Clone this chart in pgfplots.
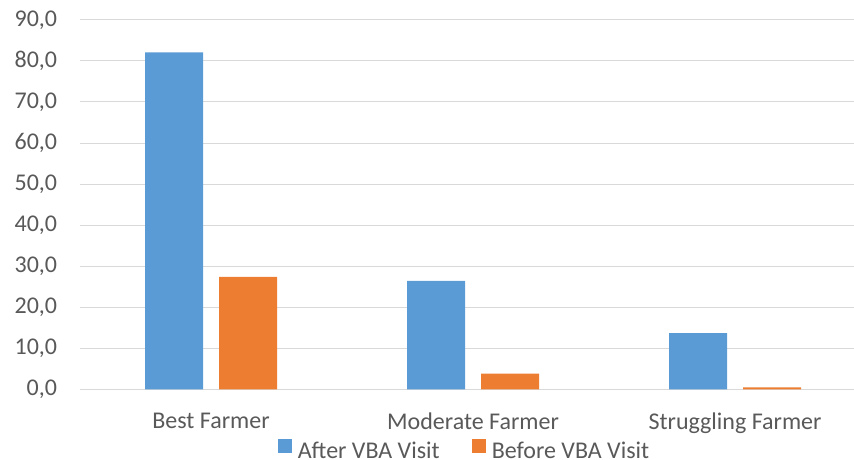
\documentclass[border=0pt]{standalone}
\usepackage{pgfplots}
\pgfplotsset{compat=1.18}
\usepackage{fontspec}
\setmainfont{Carlito}
\definecolor{cblue}{HTML}{5B9BD5}
\definecolor{corange}{HTML}{ED7D31}
\definecolor{ctext}{HTML}{595959}
\definecolor{cgrid}{HTML}{D9D9D9}
\begin{document}
\begin{tikzpicture}
\useasboundingbox (-60pt,-53pt) rectangle (580.5pt,292pt);
\begin{axis}[
  scale only axis,
  width=580.5pt, height=277.1pt,
  xmin=-0.5, xmax=2.454, ymin=0, ymax=90,
  ytick={0,10,...,90},
  xtick={0,1,2},
  xticklabels={Best Farmer, Moderate Farmer, Struggling Farmer},
  ymajorgrids, grid style={cgrid, line width=0.75pt},
  axis line style={draw=none},
  major tick length=0pt,
  ybar=12pt, bar width=43.5pt,
  font=\fontsize{18}{21}\selectfont,
  tick label style={font=\fontsize{18}{21}\selectfont, text=ctext},
  /pgf/number format/assume math mode=true,
  /pgf/number format/fixed,
  /pgf/number format/fixed zerofill,
  /pgf/number format/precision=1,
  /pgf/number format/use comma,
  yticklabel style={inner sep=0pt, anchor=east, xshift=-17pt},
  xticklabel style={inner sep=0pt, anchor=north, yshift=-17.5pt},
  legend style={at={(0.5,0)}, anchor=north, yshift=-37pt, xshift=-2.6pt, draw=none, fill=none,
    font=\fontsize{18}{21}\selectfont, text=ctext, inner sep=0pt,
    nodes={inner sep=0pt},
    legend columns=2,
    /tikz/every odd column/.append style={column sep=4.5pt},
    /tikz/every even column/.append style={column sep=24pt}},
  legend image code/.code={\fill[#1] (0pt,-1pt) rectangle (10.5pt,9.5pt);},
]
\addplot[fill=cblue, draw=none] coordinates {(0,82.1) (1,26.4) (2,13.7)};
\addplot[fill=corange, draw=none] coordinates {(0,27.4) (1,3.8) (2,0.5)};
\legend{After VBA Visit, Before VBA Visit}
\end{axis}
\end{tikzpicture}
\end{document}
